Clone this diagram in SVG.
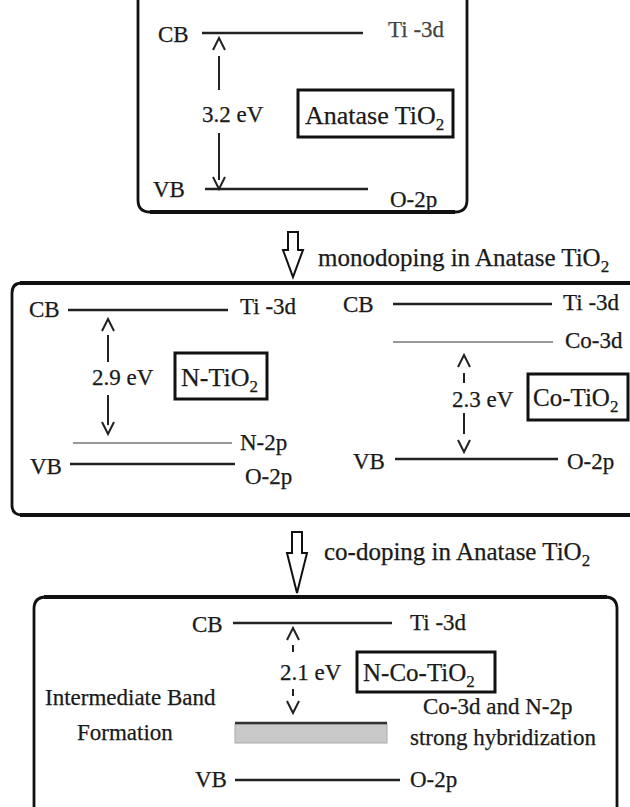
<svg xmlns="http://www.w3.org/2000/svg" width="630" height="807" viewBox="0 0 630 807">
<style>
.t{font-family:"Liberation Serif","Times New Roman",serif;font-size:23px;fill:#1a1a1a;stroke:#1a1a1a;stroke-width:0.25}
.lb{font-size:26px}
.lb2{font-size:25px}
.cap{font-size:25px}
.sub{font-size:17px}
.frame{fill:none;stroke:#111;stroke-width:2.8}
.thick{stroke:#111;stroke-width:4}
.lvl{stroke:#222;stroke-width:2.5}
.lvl2{stroke:#999;stroke-width:2}
.gap{fill:none;stroke:#222;stroke-width:2}
.tag{fill:none;stroke:#111;stroke-width:3}
.hollow{fill:#fff;stroke:#111;stroke-width:2;stroke-linejoin:miter}
</style>
<rect width="630" height="807" fill="#fff"/>

<g id="panel-anatase">
  <path class="frame" d="M138,-10 V200 Q138,212 150,212 H455 Q467,212 467,200 V-10"/>
  <line class="thick" x1="150" y1="212" x2="455" y2="212"/>
  <text class="t" x="158" y="42">CB</text>
  <line class="lvl" x1="202" y1="33" x2="363" y2="33"/>
  <text class="t" x="388" y="37" style="fill:#444;stroke:#444">Ti -3d</text>
  <polyline class="gap" points="213,50 219,38 225,50"/>
  <line class="gap" x1="219" y1="56" x2="219" y2="90"/>
  <text class="t" x="202" y="122">3.2  eV</text>
  <line class="gap" x1="219" y1="133" x2="219" y2="180"/>
  <polyline class="gap" points="213,177 219,189 225,177"/>
  <text class="t" x="153" y="197">VB</text>
  <line class="lvl" x1="205" y1="189" x2="368" y2="189"/>
  <text class="t" x="390" y="207">O-2p</text>
  <rect class="tag" x="298" y="90" width="155" height="47"/>
  <text class="t lb" x="305" y="124">Anatase TiO<tspan class="sub" dy="6">2</tspan></text>
</g>

<g id="panel-monodoped">
  <path class="frame" d="M640,283 H22 Q12,283 12,293 V505 Q12,515 22,515 H640"/>
  <line class="thick" x1="20" y1="283" x2="640" y2="283"/>
  <line class="thick" x1="20" y1="515" x2="640" y2="515"/>
  <g id="n-tio2">
    <text class="t" x="29" y="317">CB</text>
    <line class="lvl" x1="68" y1="310" x2="228" y2="310"/>
    <text class="t" x="240" y="314">Ti -3d</text>
    <polyline class="gap" points="102,331 108,319 114,331"/>
    <line class="gap" x1="108" y1="335" x2="108" y2="362"/>
    <text class="t" x="92" y="385">2.9 eV</text>
    <line class="gap" x1="108" y1="395" x2="108" y2="425"/>
    <polyline class="gap" points="102,422 108,434 114,422"/>
    <rect class="tag" x="175" y="353" width="92" height="46"/>
    <text class="t lb" x="181" y="386">N-TiO<tspan class="sub" dy="6">2</tspan></text>
    <line class="lvl2" x1="73" y1="443" x2="232" y2="443"/>
    <text class="t" x="240" y="450">N-2p</text>
    <text class="t" x="30" y="474">VB</text>
    <line class="lvl" x1="70" y1="464" x2="235" y2="464"/>
    <text class="t" x="245" y="484">O-2p</text>
  </g>
  <g id="co-tio2">
    <text class="t" x="343" y="312">CB</text>
    <line class="lvl" x1="393" y1="304" x2="552" y2="304"/>
    <text class="t" x="563" y="310">Ti -3d</text>
    <line class="lvl2" x1="393" y1="342" x2="553" y2="342"/>
    <text class="t" x="565" y="348">Co-3d</text>
    <polyline class="gap" points="458,367 464,355 470,367"/>
    <line class="gap" x1="464" y1="373" x2="464" y2="383"/>
    <text class="t" x="452" y="407">2.3 eV</text>
    <line class="gap" x1="464" y1="413" x2="464" y2="434"/>
    <polyline class="gap" points="458,440 464,452 470,440"/>
    <rect class="tag" x="528" y="374" width="100" height="46"/>
    <text class="t lb2" x="533" y="406">Co-TiO<tspan class="sub" dy="6">2</tspan></text>
    <text class="t" x="353" y="469">VB</text>
    <line class="lvl" x1="395" y1="459" x2="558" y2="459"/>
    <text class="t" x="567" y="469">O-2p</text>
  </g>
</g>

<g id="panel-codoped">
  <path class="frame" d="M34,815 V609 Q34,597 46,597 H605 Q617,597 617,609 V815"/>
  <line class="thick" x1="44" y1="597" x2="607" y2="597"/>
  <text class="t" x="192" y="632">CB</text>
  <line class="lvl" x1="233" y1="623" x2="392" y2="623"/>
  <text class="t" x="410" y="630">Ti -3d</text>
  <polyline class="gap" points="287,640 293,628 299,640"/>
  <line class="gap" x1="293" y1="645" x2="293" y2="652"/>
  <text class="t" x="280" y="680">2.1 eV</text>
  <line class="gap" x1="293" y1="689" x2="293" y2="696"/>
  <polyline class="gap" points="287,701 293,713 299,701"/>
  <rect class="tag" x="357" y="652" width="138" height="40"/>
  <text class="t lb2" x="363" y="681">N-Co-TiO<tspan class="sub" dy="6">2</tspan></text>
  <text class="t" x="45" y="705">Intermediate Band</text>
  <text class="t" x="77" y="740">Formation</text>
  <rect x="235" y="724" width="152" height="19" fill="#c9c9c9" stroke="#aaa" stroke-width="1"/>
  <line x1="235" y1="723" x2="387" y2="723" stroke="#333" stroke-width="2.5"/>
  <text class="t" x="423" y="714">Co-3d and N-2p</text>
  <text class="t" x="410" y="745">strong hybridization</text>
  <text class="t" x="195" y="787">VB</text>
  <line class="lvl" x1="235" y1="780" x2="400" y2="780"/>
  <text class="t" x="410" y="787">O-2p</text>
</g>

<g id="connectors">
  <path class="hollow" d="M288,232 H298 V250 H303 L293,277 L283,250 H288 Z"/>
  <text class="t cap" x="318" y="266">monodoping in Anatase TiO<tspan class="sub" dy="6">2</tspan></text>
  <path class="hollow" d="M292,532 H302 V553 H307 L297,593 L287,553 H292 Z"/>
  <text class="t cap" x="324" y="560">co-doping in Anatase TiO<tspan class="sub" dy="6">2</tspan></text>
</g>
</svg>
